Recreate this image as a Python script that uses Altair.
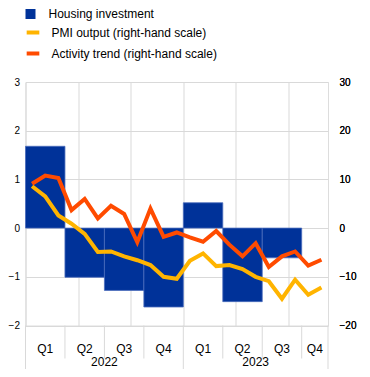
import altair as alt
import pandas as pd

# ---- data ----
quarter_labels = ["Q1", "Q2", "Q3", "Q4", "Q1", "Q2", "Q3", "Q4"]
year_labels = ["2022", "2023"]
# housing investment, quarterly (left-hand scale), Q1 2022 .. Q3 2023
housing = [1.68, -1.01, -1.28, -1.62, 0.52, -1.51, -0.61]
# monthly series, Jan 2022 .. Nov 2023 (right-hand scale)
pmi = [8.6, 6.5, 2.6, 0.9, -1.2, -4.9, -4.8, -5.8, -6.6, -7.6, -10.0, -10.4,
       -6.7, -5.2, -7.8, -7.6, -8.4, -10.0, -10.9, -14.5, -10.6, -13.7, -12.2]
activity = [9.1, 10.8, 10.3, 3.7, 6.0, 2.0, 4.6, 2.9, -2.9, 4.0, -1.8, -0.9,
            -1.9, -2.8, -0.6, -3.4, -5.8, -3.1, -8.0, -5.8, -4.8, -7.7, -6.5]

N = len(pmi)  # 23 months
BLUE = "#003299"
YELLOW = "#ffb400"
ORANGE = "#ff4b00"
GRID = "#d9d9d9"
FONT = "Liberation Sans"
W, H = 302.5, 243.5

bar_df = pd.DataFrame({
    "start": [3 * i for i in range(len(housing))],
    "end": [min(3 * i + 3, N) for i in range(len(housing))],
    "value": housing,
    "series": "Housing investment",
})
pmi_df = pd.DataFrame({"m": [i + 0.5 for i in range(N)], "value": pmi,
                       "series": "PMI output (right-hand scale)"})
act_df = pd.DataFrame({"m": [i + 0.5 for i in range(N)], "value": activity,
                       "series": "Activity trend (right-hand scale)"})

q_df = pd.DataFrame({
    "label": quarter_labels,
    "pos": [(3 * i + min(3 * i + 3, N)) / 2 for i in range(len(quarter_labels))],
})
y_df = pd.DataFrame({"label": year_labels, "pos": [6, (12 + N) / 2]})
qb_df = pd.DataFrame({"b": [3, 6, 9, 15, 18, 21]})
yb_df = pd.DataFrame({"b": [0, 12, N]})

xscale = alt.Scale(domain=[0, N], nice=False, zero=False)
xaxis = alt.Axis(values=list(range(N + 1)), labels=False, ticks=False,
                 domain=False, grid=True, gridColor=GRID, title=None)

bars = alt.Chart(bar_df).mark_bar(stroke="#4a6cbd", strokeWidth=0.8).encode(
    x=alt.X("start:Q", scale=xscale, axis=xaxis),
    x2="end:Q",
    y=alt.Y("value:Q", scale=alt.Scale(domain=[-2, 3], nice=False),
            axis=alt.Axis(values=[-2, -1, 0, 1, 2, 3], orient="left", title=None,
                          domain=False, ticks=False, labelPadding=6,
                          grid=True, gridColor=GRID)),
    y2=alt.datum(0),
    fill=alt.Fill("series:N",
                  scale=alt.Scale(domain=["Housing investment"], range=[BLUE]),
                  legend=alt.Legend(title=None, orient="none", legendX=-1, legendY=-74,
                                    symbolType="square", symbolSize=100,
                                    symbolStrokeWidth=0, labelOffset=12,
                                    labelFontSize=12, labelFont=FONT, labelLimit=400,
                                    labelColor="#000000", padding=0)),
)

line_scale = alt.Scale(domain=["PMI output (right-hand scale)",
                               "Activity trend (right-hand scale)"],
                       range=[YELLOW, ORANGE])
yright = alt.Y("value:Q", scale=alt.Scale(domain=[-20, 30], nice=False),
               axis=alt.Axis(values=[-20, -10, 0, 10, 20, 30], orient="right",
                             title=None, domain=False, ticks=False,
                             labelPadding=11, grid=False))
stroke_enc = alt.Stroke("series:N", scale=line_scale,
                        legend=alt.Legend(title=None, orient="none", legendX=-1,
                                          legendY=-58, symbolType="stroke",
                                          symbolSize=160, symbolStrokeWidth=4,
                                          labelOffset=10, rowPadding=4, labelLimit=400,
                                          labelFontSize=12, labelFont=FONT,
                                          labelColor="#000000", padding=0))

pmi_line = alt.Chart(pmi_df).mark_line(strokeWidth=4, strokeJoin="miter").encode(
    x=alt.X("m:Q", scale=xscale), y=yright, stroke=stroke_enc)
act_line = alt.Chart(act_df).mark_line(strokeWidth=4, strokeJoin="miter").encode(
    x=alt.X("m:Q", scale=xscale), y=yright, stroke=stroke_enc)

qticks = alt.Chart(qb_df).mark_rule(color=GRID, strokeWidth=1).encode(
    x=alt.X("b:Q", scale=xscale), y=alt.value(H), y2=alt.value(H + 33))
yticks = alt.Chart(yb_df).mark_rule(color=GRID, strokeWidth=1).encode(
    x=alt.X("b:Q", scale=xscale), y=alt.value(H), y2=alt.value(H + 43.5))

qtext = alt.Chart(q_df).mark_text(fontSize=12, font=FONT, color="#000000",
                                  baseline="middle", align="center").encode(
    x=alt.X("pos:Q", scale=xscale), y=alt.value(H + 23.5), text="label:N")
ytext = alt.Chart(y_df).mark_text(fontSize=12, font=FONT, color="#000000",
                                  baseline="middle", align="center").encode(
    x=alt.X("pos:Q", scale=xscale), y=alt.value(H + 36.5), text="label:N")

chart = alt.layer(
    bars, qticks, yticks, qtext, ytext, pmi_line, act_line
).resolve_scale(y="independent").properties(
    width=W, height=H,
    padding={"left": 17.5, "top": 74, "right": 34, "bottom": 43.5},
    autosize=alt.AutoSizeParams(type="none"),
).configure_view(stroke=None).configure_axis(
    labelFont=FONT, labelFontSize=12, labelColor="#000000"
).configure(font=FONT)

chart.save("out.html", embed_options={"renderer": "svg", "actions": False})
